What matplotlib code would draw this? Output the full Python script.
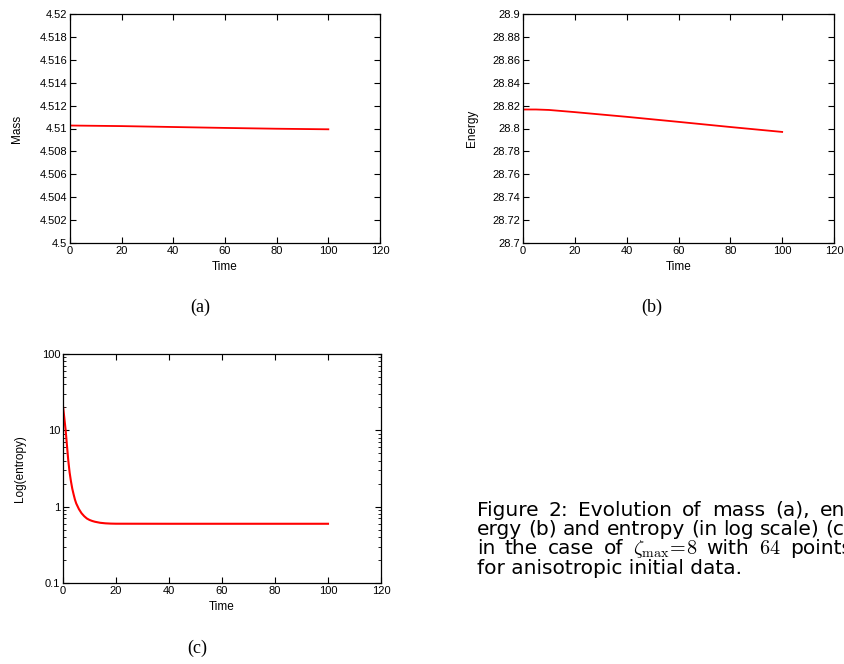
import numpy as np
import matplotlib
matplotlib.use("Agg")
import matplotlib.pyplot as plt
from matplotlib.ticker import MultipleLocator, LogLocator, NullFormatter, FormatStrFormatter

plt.rcParams['font.family'] = ['Liberation Sans', 'DejaVu Sans']
plt.rcParams['mathtext.fontset'] = 'cm'

# mass over time
t_mass = [0, 20, 40, 60, 80, 100]
mass = [4.51026, 4.51021, 4.51013, 4.51005, 4.50998, 4.50993]

# energy over time
t_energy = [0, 5, 10, 20, 40, 60, 80, 100]
energy = [28.8166, 28.8166, 28.8162, 28.8143, 28.8102, 28.8058, 28.8013, 28.7970]

# entropy over time (log scale)
t_ent = [0, 0.5, 1, 1.5, 2, 2.5, 3, 3.5, 4, 4.5, 5, 6, 7, 8, 9, 10, 11, 12,
         14, 16, 18, 20, 40, 60, 80, 100]
entropy = [20.8, 14.5, 10.0, 6.3, 4.0, 2.8, 2.15, 1.72, 1.45, 1.24, 1.1, 0.93,
           0.82, 0.75, 0.70, 0.67, 0.65, 0.635, 0.615, 0.605, 0.60, 0.598,
           0.597, 0.597, 0.597, 0.597]

# caption lines; the first three are justified
caption = [
    ["Figure", "2:", "Evolution", "of", "mass", "(a),", "en-"],
    ["ergy", "(b)", "and", "entropy", "(in", "log", "scale)", "(c)"],
    ["in", "the", "case", "of", r"$\zeta_{\rm max}\!=\!8$", "with", "$64$",
     "points"],
    ["for anisotropic initial data."],
]

W, H = 845, 664
fig = plt.figure(figsize=(W / 100, H / 100), dpi=100)


def box(l, t, r, b):
    return [l / W, 1 - b / H, (r - l) / W, (b - t) / H]


def style(ax):
    ax.tick_params(direction='in', top=True, right=True, length=4,
                   labelsize=8, pad=2, width=0.8)
    ax.tick_params(which='minor', direction='in', top=True, right=True,
                   length=2, width=0.6)
    for s in ax.spines.values():
        s.set_linewidth(0.9)
    ax.set_xlim(0, 120)
    ax.xaxis.set_major_locator(MultipleLocator(20))
    ax.set_xlabel('Time', fontsize=8.5, labelpad=4)


ax1 = fig.add_axes(box(70, 14, 380, 243))
ax1.plot(t_mass, mass, color='red', lw=1.3)
ax1.set_ylim(4.5, 4.52)
ax1.yaxis.set_major_locator(MultipleLocator(0.002))
ax1.yaxis.set_major_formatter(FormatStrFormatter('%g'))
ax1.set_ylabel('Mass', fontsize=8.5, labelpad=12)
style(ax1)

ax2 = fig.add_axes(box(523, 14, 834, 243))
ax2.plot(t_energy, energy, color='red', lw=1.3)
ax2.set_ylim(28.7, 28.9)
ax2.yaxis.set_major_locator(MultipleLocator(0.02))
ax2.yaxis.set_major_formatter(FormatStrFormatter('%g'))
ax2.set_ylabel('Energy', fontsize=8.5, labelpad=10)
style(ax2)

ax3 = fig.add_axes(box(63, 354, 381, 583))
ax3.plot(t_ent, entropy, color='red', lw=1.5)
ax3.set_yscale('log')
ax3.set_ylim(0.1, 100)
ax3.yaxis.set_major_locator(LogLocator(base=10))
ax3.yaxis.set_major_formatter(FormatStrFormatter('%g'))
ax3.yaxis.set_minor_locator(LogLocator(base=10, subs=np.arange(2, 10)))
ax3.yaxis.set_minor_formatter(NullFormatter())
ax3.set_ylabel('Log(entropy)', fontsize=8.5, labelpad=11)
style(ax3)

# sub-figure labels
for lab, x, y in [('(a)', 200, 307), ('(b)', 652, 307), ('(c)', 197, 648)]:
    fig.text(x / W, 1 - y / H, lab, ha='center', va='center',
             fontsize=13, family='Liberation Serif')

# caption: measure words, then spread them between the margins
left, right = 477, 852
renderer = fig.canvas.get_renderer()
for i, words in enumerate(caption):
    base = 515.5 + 19.4 * i
    texts = [fig.text(0, 1 - base / H, w, ha='left', va='baseline',
                      fontsize=14.5, family='DejaVu Sans') for w in words]
    widths = [t.get_window_extent(renderer).width for t in texts]
    if len(texts) > 1:
        gap = (right - left - sum(widths)) / (len(texts) - 1)
    else:
        gap = 0
    x = left
    for t, w in zip(texts, widths):
        t.set_x(x / W)
        x += w + gap

fig.savefig('out.png', dpi=100)
